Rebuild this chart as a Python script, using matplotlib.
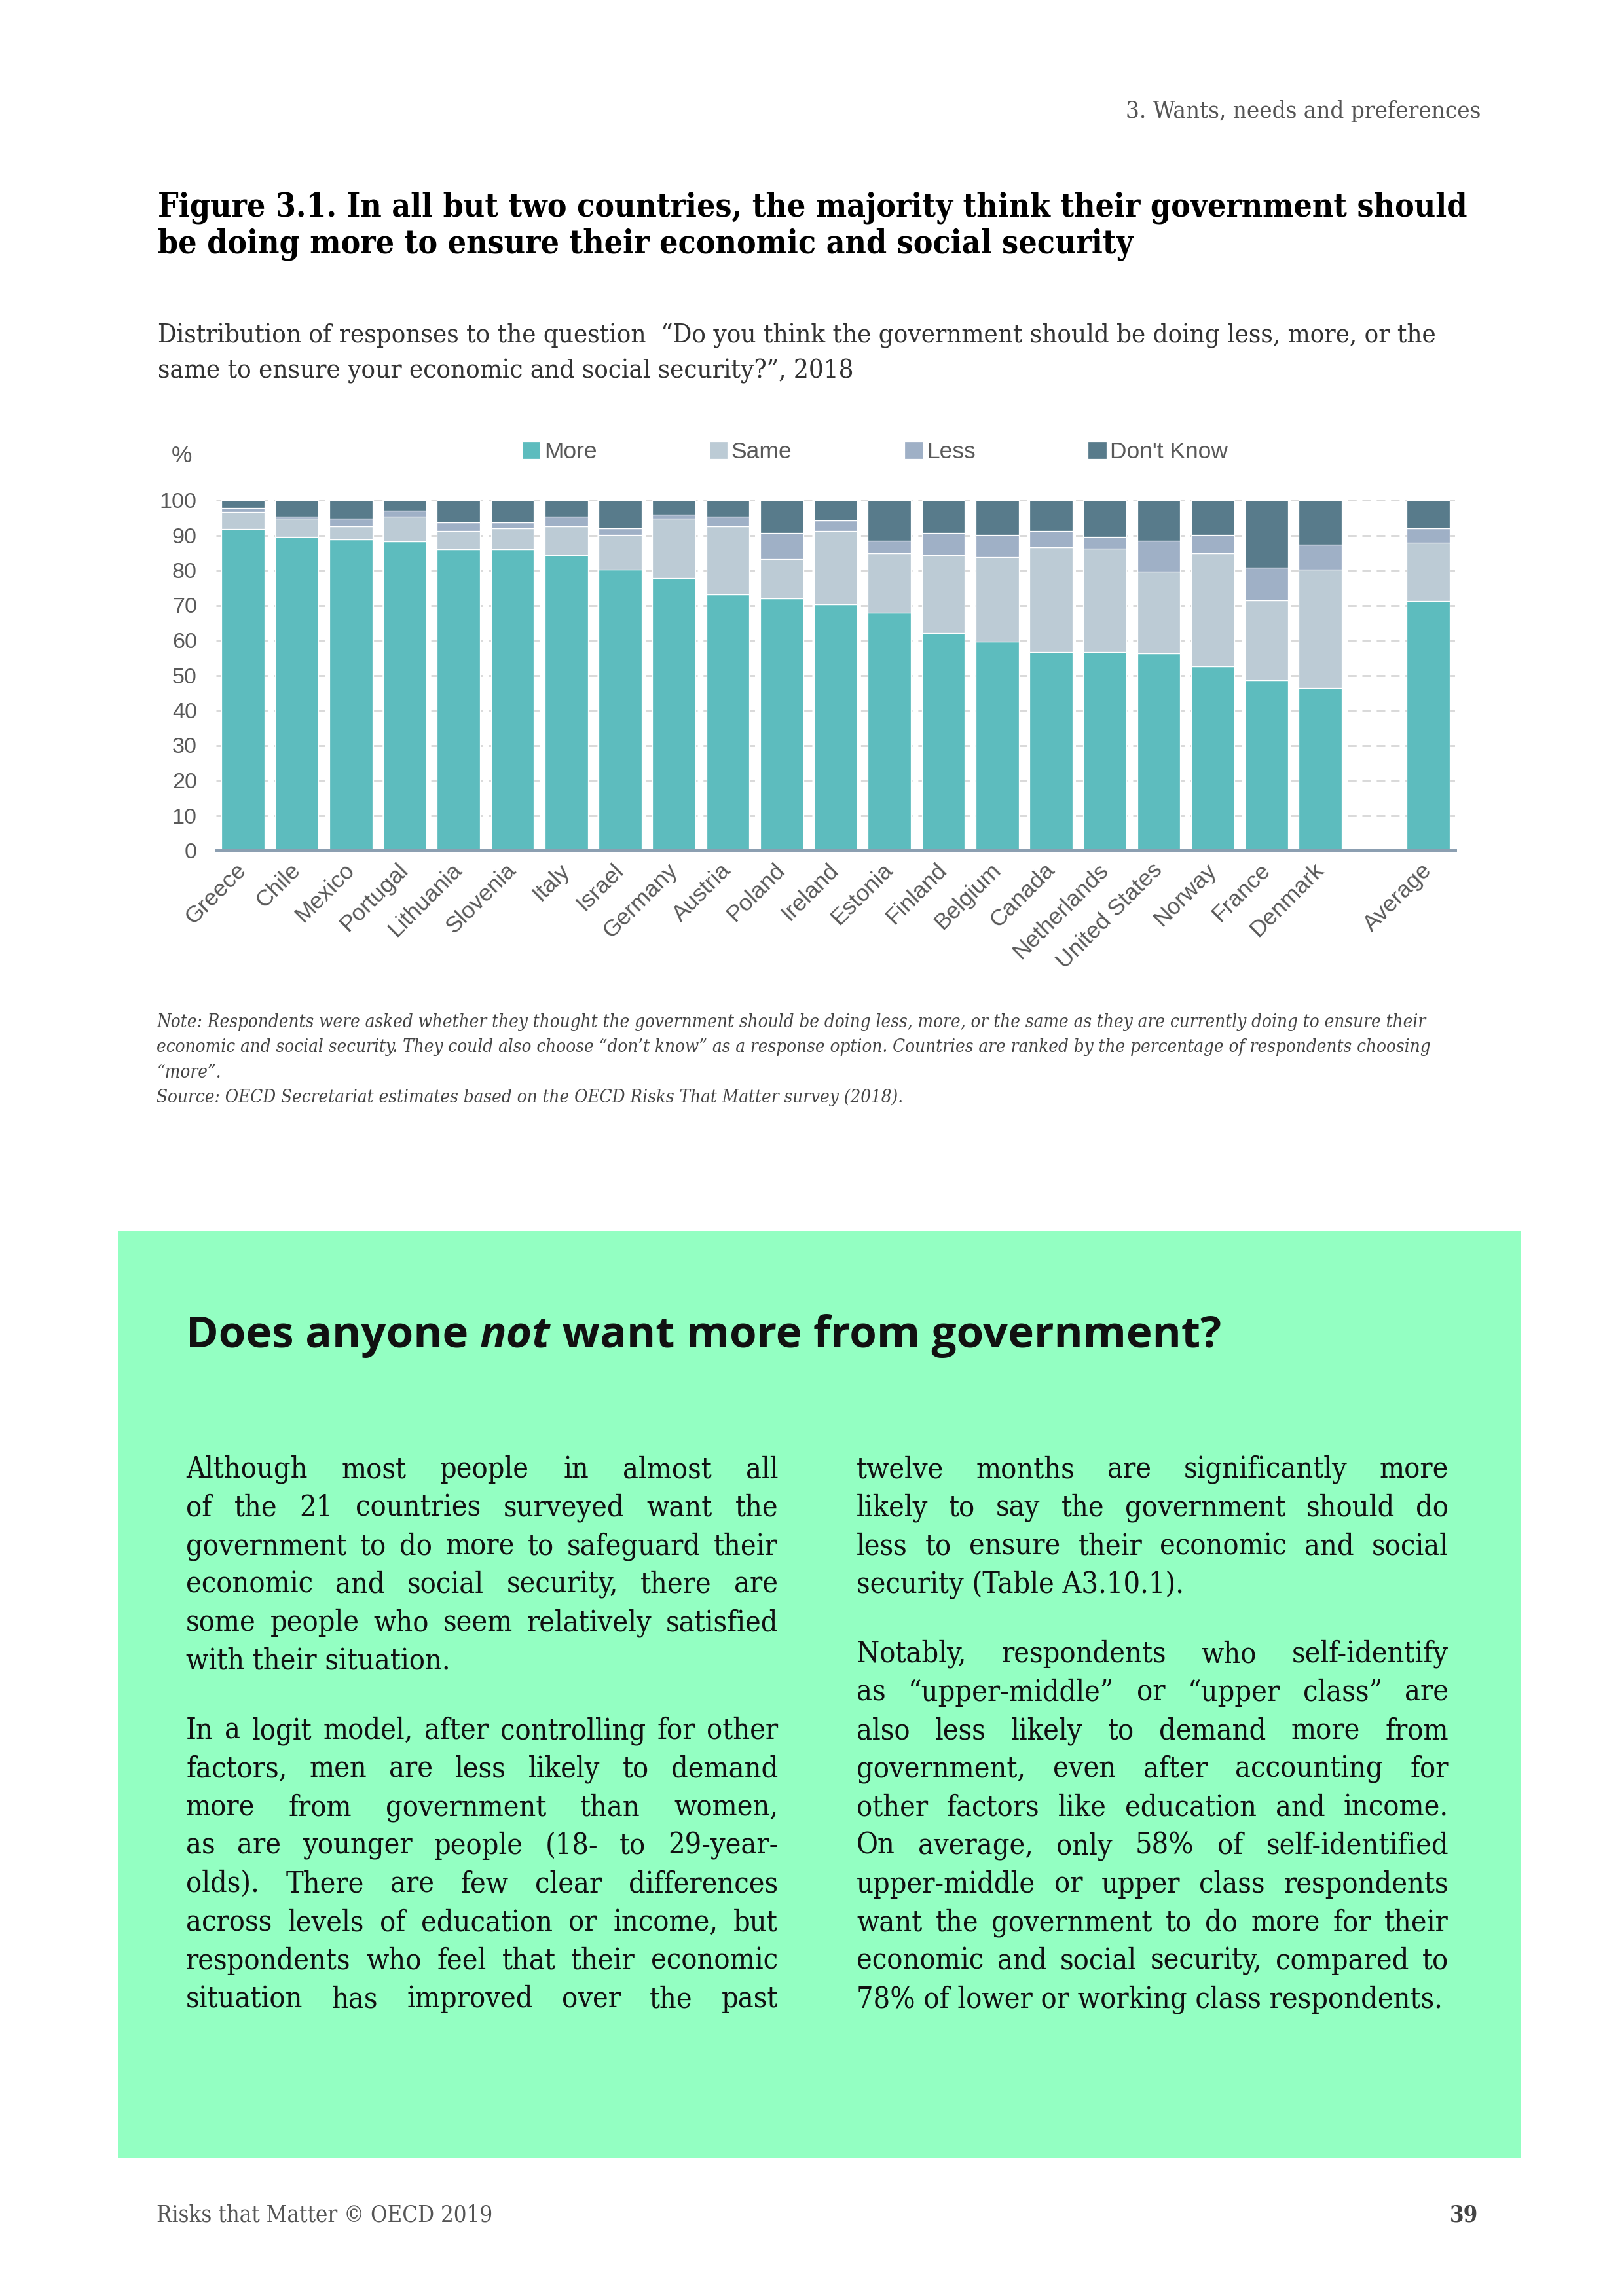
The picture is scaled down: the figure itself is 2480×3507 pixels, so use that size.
import os
import matplotlib
matplotlib.use("Agg")
import matplotlib.pyplot as plt
from matplotlib import font_manager as fm
from matplotlib.patches import Rectangle

# page size in pixels (A4 at 300 dpi)
W, H, DPI = 2480, 3507, 300

# data (% of respondents)
countries = ["Greece", "Chile", "Mexico", "Portugal", "Lithuania", "Slovenia", "Italy",
             "Israel", "Germany", "Austria", "Poland", "Ireland", "Estonia", "Finland",
             "Belgium", "Canada", "Netherlands", "United States", "Norway", "France",
             "Denmark", "Average"]
more = [91.8, 89.5, 88.8, 88.3, 86.0, 86.0, 84.3, 80.2, 77.7, 73.1, 71.9,
        70.2, 67.9, 62.0, 59.7, 56.7, 56.7, 56.2, 52.6, 48.6, 46.3, 71.3]
same = [4.8, 5.3, 3.8, 7.1, 5.3, 5.9, 8.3, 9.9, 17.1, 19.5, 11.2,
        21.1, 16.9, 22.3, 24.0, 29.9, 29.4, 23.4, 32.2, 22.8, 33.9, 16.5]
less = [1.1, 0.6, 2.2, 1.7, 2.3, 1.7, 2.8, 1.8, 1.1, 2.8, 7.6,
        2.9, 3.6, 6.4, 6.4, 4.7, 3.4, 8.8, 5.3, 9.4, 7.0, 4.1]
dont_know = [2.3, 4.6, 5.2, 2.9, 6.4, 6.4, 4.6, 8.1, 4.1, 4.6, 9.3,
             5.8, 11.6, 9.3, 9.9, 8.7, 10.5, 11.6, 9.9, 19.2, 12.8, 8.1]
series_names = ["More", "Same", "Less", "Don't Know"]
colors = ["#5dbcbe", "#bccbd5", "#9fb0c6", "#587b8b"]
yticks = list(range(0, 101, 10))

# average is separated from the countries by one empty slot
pos = list(range(len(countries) - 1)) + [len(countries)]

title_lines = ["Figure 3.1. In all but two countries, the majority think their government should",
               "be doing more to ensure their economic and social security"]
subtitle_lines = ["Distribution of responses to the question  \u201cDo you think the government should be doing less, more, or the",
                  "same to ensure your economic and social security?\u201d, 2018"]
note_lines = ["Note: Respondents were asked whether they thought the government should be doing less, more, or the same as they are currently doing to ensure their",
              "economic and social security. They could also choose \u201cdon\u2019t know\u201d as a response option. Countries are ranked by the percentage of respondents choosing",
              "\u201cmore\u201d.",
              "Source: OECD Secretariat estimates based on the OECD Risks That Matter survey (2018)."]

left_p1 = ["Although most people in almost all",
           "of the 21 countries surveyed want the",
           "government to do more to safeguard their",
           "economic and social security, there are",
           "some people who seem relatively satisfied",
           "with their situation."]
left_p2 = ["In a logit model, after controlling for other",
           "factors, men are less likely to demand",
           "more from government than women,",
           "as are younger people (18- to 29-year-",
           "olds). There are few clear differences",
           "across levels of education or income, but",
           "respondents who feel that their economic",
           "situation has improved over the past"]
right_p1 = ["twelve months are significantly more",
            "likely to say the government should do",
            "less to ensure their economic and social",
            "security (Table A3.10.1)."]
right_p2 = ["Notably, respondents who self-identify",
            "as \u201cupper-middle\u201d or \u201cupper class\u201d are",
            "also less likely to demand more from",
            "government, even after accounting for",
            "other factors like education and income.",
            "On average, only 58% of self-identified",
            "upper-middle or upper class respondents",
            "want the government to do more for their",
            "economic and social security, compared to",
            "78% of lower or working class respondents."]

names = {f.name for f in fm.fontManager.ttflist}
chart_font = "Liberation Sans Narrow" if "Liberation Sans Narrow" in names else "Liberation Sans"


def serif(style="normal", weight="normal"):
    fname = {("normal", "normal"): "DejaVuSerifCondensed.ttf",
             ("normal", "bold"): "DejaVuSerifCondensed-Bold.ttf",
             ("italic", "normal"): "DejaVuSerifCondensed-Italic.ttf"}[(style, weight)]
    for f in fm.fontManager.ttflist:
        if os.path.basename(f.fname) == fname:
            return {"fontproperties": fm.FontProperties(fname=f.fname)}
    return {"family": "Liberation Serif", "style": style, "weight": weight}


heading_family = "DejaVu Sans"
for fam in ["Open Sans", "Noto Sans", "Lato"]:
    if any(f.name == fam and f.style == "italic" for f in fm.fontManager.ttflist):
        heading_family = fam
        break

fig = plt.figure(figsize=(W / DPI, H / DPI), dpi=DPI)
fig.patch.set_facecolor("white")
renderer = fig.canvas.get_renderer()


def fx(x):
    return x / W


def fy(y):
    return 1 - y / H


def text_width(s, size, **kw):
    t = fig.text(0, 0, s, fontsize=size, **kw)
    w = t.get_window_extent(renderer).width
    t.remove()
    return w


def fit(lines, target, **kw):
    w = max(text_width(s, 10, **kw) for s in lines)
    return 10 * target / w


def paragraph(lines, x0, y0, colw, pitch, size, color, justify_last=False, **kw):
    for i, line in enumerate(lines):
        y = y0 + i * pitch
        words = line.split()
        last = i == len(lines) - 1 and not justify_last
        if last or len(words) == 1:
            fig.text(fx(x0), fy(y), line, fontsize=size, color=color, va="baseline", **kw)
            continue
        ws = [text_width(wd, size, **kw) for wd in words]
        gap = (colw - sum(ws)) / (len(words) - 1)
        x = x0
        for wd, w in zip(words, ws):
            fig.text(fx(x), fy(y), wd, fontsize=size, color=color, va="baseline", **kw)
            x += w + gap


# ---- page header / titles ----
hdr_kw = serif()
s = fit(["3. Wants, needs and preferences"], 541, **hdr_kw)
fig.text(fx(2261), fy(180), "3. Wants, needs and preferences", fontsize=s, color="#555555",
         ha="right", va="baseline", **hdr_kw)

title_kw = serif(weight="bold")
s = fit(title_lines[:1], 1998, **title_kw)
for i, line in enumerate(title_lines):
    fig.text(fx(241), fy(331 + i * 56), line, fontsize=s, color="black", va="baseline", **title_kw)

sub_kw = serif()
s = fit(subtitle_lines[:1], 1948, **sub_kw)
for i, line in enumerate(subtitle_lines):
    fig.text(fx(241), fy(523 + i * 54), line, fontsize=s, color="#333333", va="baseline", **sub_kw)

# ---- chart ----
ax = fig.add_axes([fx(330), fy(1299), (2222 - 330) / W, (1299 - 764) / H])
bottom = [0.0] * len(countries)
handles = []
for vals, name, col in zip([more, same, less, dont_know], series_names, colors):
    b = ax.bar(pos, vals, width=0.8, bottom=bottom, color=col, edgecolor="white",
               linewidth=0.3, label=name, zorder=2)
    handles.append(b)
    bottom = [a + v for a, v in zip(bottom, vals)]

ax.set_xlim(-0.5, len(countries) + 0.5)
ax.set_ylim(0, 100)
ax.set_yticks(yticks)
ax.set_yticklabels([str(v) for v in yticks], fontsize=8.2, color="#595959", family=chart_font)
ax.set_xticks(pos)
ax.set_xticklabels(countries, rotation=45, ha="right", va="center", rotation_mode="anchor",
                   fontsize=8.5, color="#595959", family=chart_font)
ax.tick_params(axis="both", length=0)
ax.tick_params(axis="y", pad=7)
ax.tick_params(axis="x", pad=6)
ax.yaxis.grid(True, color="#d9d9d9", linestyle=(0, (4.5, 3)), linewidth=0.7, zorder=0)
ax.yaxis.get_gridlines()[0].set_visible(False)
ax.set_axisbelow(True)
for side in ["top", "right", "left"]:
    ax.spines[side].set_visible(False)
ax.spines["bottom"].set_color("#8c9fb1")
ax.spines["bottom"].set_linewidth(1.2)
ax.spines["bottom"].set_zorder(3)

fig.text(fx(262), fy(697), "%", fontsize=8.5, color="#595959", family=chart_font, va="center")
ax.legend(handles, series_names, ncol=4, loc="center left",
          bbox_to_anchor=(fx(797), fy(690)), bbox_transform=fig.transFigure,
          frameon=False, handlelength=0.8, handleheight=0.8, handletextpad=0.15,
          columnspacing=4.85, borderaxespad=0, borderpad=0,
          prop={"family": chart_font, "size": 8.5}, labelcolor="#595959")

# ---- notes ----
note_kw = serif(style="italic")
s = fit(note_lines[:1], 1937, **note_kw)
for i, line in enumerate(note_lines):
    fig.text(fx(239), fy(1569 + i * 38.3), line, fontsize=s, color="#444444", va="baseline", **note_kw)

# ---- green box ----
fig.add_artist(Rectangle((fx(180), fy(3296)), (2322 - 180) / W, (3296 - 1880) / H,
                         transform=fig.transFigure, facecolor="#93ffc2", edgecolor="none", zorder=0))

parts = [("Does anyone ", "normal"), ("not", "italic"), (" want more from government?", "normal")]
total = sum(text_width(p.replace(" ", "\u00a0"), 10, family=heading_family, weight="bold", style=st)
            for p, st in parts)
hs = 10 * 1583 / total
x = 284
for p, st in parts:
    p2 = p.replace(" ", "\u00a0")
    fig.text(fx(x), fy(2058), p2, fontsize=hs, family=heading_family, weight="bold", style=st,
             color="#111111", va="baseline")
    x += text_width(p2, hs, family=heading_family, weight="bold", style=st)

body_kw = serif()
bs = 0.99 * fit(left_p1[:-1] + left_p2 + right_p1[:-1] + right_p2, 904, **body_kw)
pitch = 58.6
paragraph(left_p1, 284, 2257, 904, pitch, bs, "#111111", **body_kw)
# last line of the left column continues on the right, so it is justified too
paragraph(left_p2, 284, 2656, 904, pitch, bs, "#111111", justify_last=True, **body_kw)
paragraph(right_p1, 1308, 2257, 904, pitch, bs, "#111111", **body_kw)
paragraph(right_p2, 1308, 2539, 904, pitch, bs, "#111111", **body_kw)

# ---- footer ----
foot_kw = serif()
s = fit(["Risks that Matter \u00a9 OECD 2019"], 512, **foot_kw)
fig.text(fx(239), fy(3393), "Risks that Matter \u00a9 OECD 2019", fontsize=s, color="#555555",
         va="baseline", **foot_kw)
fig.text(fx(2257), fy(3393), "39", fontsize=s, color="#444444", ha="right", va="baseline",
         **serif(weight="bold"))

fig.savefig("out.png", dpi=DPI, facecolor="white")
